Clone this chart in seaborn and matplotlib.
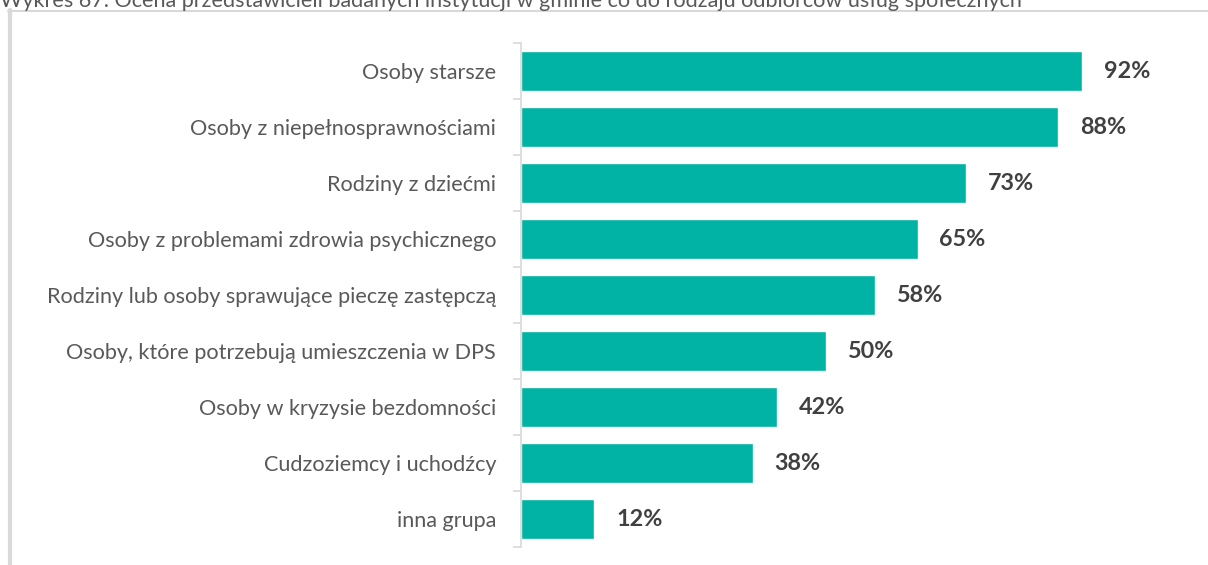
import matplotlib
matplotlib.use("Agg")
import matplotlib.pyplot as plt
from matplotlib.lines import Line2D
import seaborn as sns
import pandas as pd

categories = [
    "Osoby starsze",
    "Osoby z niepełnosprawnościami",
    "Rodziny z dziećmi",
    "Osoby z problemami zdrowia psychicznego",
    "Rodziny lub osoby sprawujące pieczę zastępczą",
    "Osoby, które potrzebują umieszczenia w DPS",
    "Osoby w kryzysie bezdomności",
    "Cudzoziemcy i uchodźcy",
    "inna grupa",
]
values = [92, 88, 73, 65, 58, 50, 42, 38, 12]
title = ("Wykres 67. Ocena przedstawicieli badanych instytucji w gminie "
         "co do rodzaju odbiorców usług społecznych")

df = pd.DataFrame({"grupa": categories, "udzial": values})

sns.set_theme(style="white")
plt.rcParams["font.family"] = ["Lato", "DejaVu Sans"]

W, H = 1208, 565
fig = plt.figure(figsize=(W / 100, H / 100), dpi=100)

# axes placed in pixel terms: x from 521 to 1131 (0..100 %), y from 43 to 547
left, right, top, bottom = 521, 1131, 43, 547
ax = fig.add_axes([left / W, 1 - bottom / H, (right - left) / W, (bottom - top) / H])

sns.barplot(data=df, x="udzial", y="grupa", orient="h", color="#00b3a4",
            saturation=1, width=0.72, ax=ax)

ax.set_xlim(0, 100)
ax.set_ylim(len(categories) - 0.5, -0.5)
ax.set_xlabel("")
ax.set_ylabel("")
ax.set_xticks([])

for s in ["top", "right", "bottom"]:
    ax.spines[s].set_visible(False)
ax.spines["left"].set_color("#d9d9d9")
ax.spines["left"].set_linewidth(1.2)

# category labels without ticks; boundary ticks drawn as minor ticks
ax.tick_params(axis="y", which="major", left=False, length=0, pad=18,
               labelsize=15.6, labelcolor="#595959")
ax.set_yticks([i - 0.5 for i in range(len(categories) + 1)], minor=True)
ax.tick_params(axis="y", which="minor", left=True, length=6, width=1.2,
               color="#d9d9d9", direction="out")

for i, v in enumerate(values):
    ax.text(v + 3.6, i, f"{v}%", va="center", ha="left", fontsize=16.8,
            fontweight="bold", color="#404040")

# frame lines around the chart area
fig.add_artist(Line2D([9.5 / W, 9.5 / W], [0, 1 - 10 / H],
                      transform=fig.transFigure, color="#d9d9d9", linewidth=3))
fig.add_artist(Line2D([8 / W, 1], [1 - 11 / H, 1 - 11 / H],
                      transform=fig.transFigure, color="#d9d9d9", linewidth=1.5))

fig.text(0 / W, 1 - 7 / H, title, ha="left", va="baseline", fontsize=15.6,
         color="#595959")

fig.savefig("out.png", dpi=100)
